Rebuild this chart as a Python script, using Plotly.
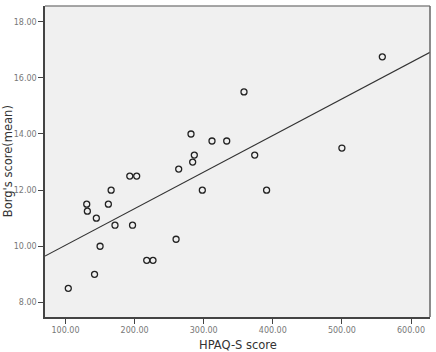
import plotly.graph_objects as go

hpaq_s = [104, 142, 150, 144.6, 130.7, 131.6, 162, 166, 171.6, 193, 203, 197,
          217.5, 226.6, 260, 263.8, 298, 281.6, 284, 286.4, 312, 333.3, 358.3,
          373.8, 500, 558.5, 391]
borg = [8.5, 9.0, 10.0, 11.0, 11.5, 11.25, 11.5, 12.0, 10.75, 12.5, 12.5, 10.75,
        9.5, 9.5, 10.25, 12.75, 12.0, 14.0, 13.0, 13.25, 13.75, 13.75, 15.5,
        13.25, 13.5, 16.75, 12.0]
fit_intercept = 8.734
fit_slope = 0.01303
x_ticks = [100, 200, 300, 400, 500, 600]
y_ticks = [8, 10, 12, 14, 16, 18]
x_range = [70.3, 627.5]
y_range = [7.48, 18.56]

font_family = "DejaVu Sans, Arial, sans-serif"

fig = go.Figure()
line_x = [x_range[0], x_range[1]]
line_y = [fit_intercept + fit_slope * v for v in line_x]
fig.add_trace(go.Scatter(x=line_x, y=line_y, mode="lines",
                         line=dict(color="#333333", width=1.2),
                         hoverinfo="skip", showlegend=False))
fig.add_trace(go.Scatter(x=hpaq_s, y=borg, mode="markers",
                         marker=dict(symbol="circle-open", size=6,
                                     color="#222222", line=dict(width=1.3)),
                         showlegend=False))

fig.update_layout(
    width=436, height=352,
    margin=dict(l=45, r=6, t=6, b=35),
    paper_bgcolor="white",
    plot_bgcolor="#f0f0f0",
    font=dict(family=font_family),
    xaxis=dict(range=x_range, tickvals=x_ticks,
               ticktext=[f"{v:.2f}" for v in x_ticks],
               showgrid=False, zeroline=False,
               showline=True, linecolor="#444444", linewidth=1.5,
               ticks="outside", ticklen=5, tickcolor="#444444", tickwidth=1.2,
               tickfont=dict(size=8, color="#777777")),
    yaxis=dict(range=y_range, tickvals=y_ticks,
               ticktext=[f"{v:.2f}" for v in y_ticks],
               showgrid=False, zeroline=False,
               showline=True, linecolor="#444444", linewidth=1.5,
               ticks="outside", ticklen=5, tickcolor="#444444", tickwidth=1.2,
               tickfont=dict(size=8, color="#777777")),
    shapes=[
        dict(type="line", xref="paper", yref="paper", x0=0, x1=1, y0=1, y1=1,
             line=dict(color="#888888", width=1.5)),
        dict(type="line", xref="paper", yref="paper", x0=1, x1=1, y0=0, y1=1,
             line=dict(color="#666666", width=1.5)),
    ],
    annotations=[
        dict(text="HPAQ-S score", xref="paper", yref="paper",
             x=0.5, y=-0.089, xanchor="center", yanchor="middle",
             showarrow=False, font=dict(size=11.5, color="#333333")),
        dict(text="Borg's score(mean)", xref="paper", yref="paper",
             x=-0.097, y=0.5, xanchor="center", yanchor="middle", textangle=-90,
             showarrow=False, font=dict(size=11.5, color="#333333")),
    ],
)

fig.write_html("out.html")
